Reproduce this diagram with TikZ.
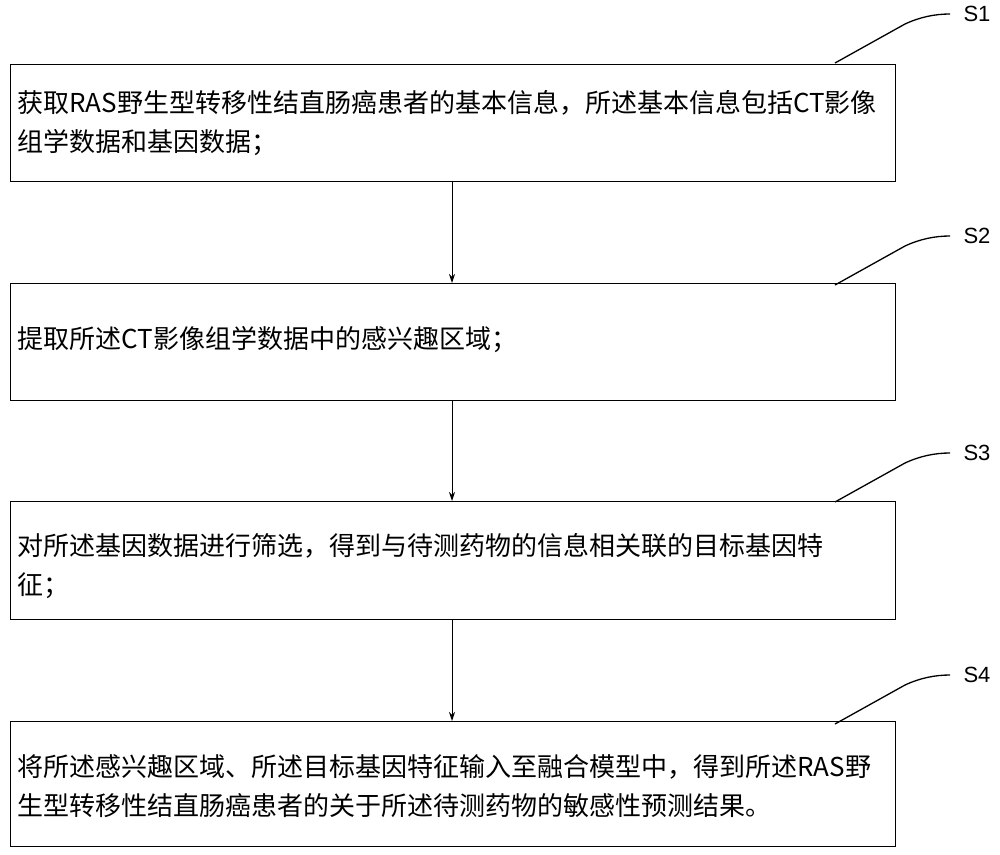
\documentclass[tikz,border=0pt]{standalone}
\usetikzlibrary{arrows.meta}
\usepackage{fontspec}
\setmainfont{Noto Sans CJK SC}
\newfontfamily\lat{Liberation Sans}
\begin{document}
\begin{tikzpicture}[x=1pt,y=-1pt,
  stepbox/.style={draw,line width=1.2pt,minimum width=885pt,anchor=north west,inner sep=0pt},
  txt/.style={anchor=west,align=left,font=\fontsize{26}{39}\selectfont},
  arr/.style={-{Stealth[length=9pt,width=6pt]},line width=1pt},
  lead/.style={line width=1.3pt},
  lab/.style={anchor=west,font=\lat\fontsize{22}{24}\selectfont}]
\useasboundingbox (0,0) rectangle (1000,854);
\node[stepbox,minimum height=117pt] (b1) at (10,64) {};
\node[stepbox,minimum height=117pt] (b2) at (10,283) {};
\node[stepbox,minimum height=118pt] (b3) at (10,501) {};
\node[stepbox,minimum height=125pt] (b4) at (10,721) {};
\node[txt] (t1) at (14,123) {获取RAS野生型转移性结直肠癌患者的基本信息，所述基本信息包括CT影像\\组学数据和基因数据；};
\node[txt] (t2) at (14,340) {提取所述CT影像组学数据中的感兴趣区域；};
\node[txt] (t3) at (14,566) {对所述基因数据进行筛选，得到与待测药物的信息相关联的目标基因特\\征；};
\node[txt] (t4) at (14,786) {将所述感兴趣区域、所述目标基因特征输入至融合模型中，得到所述RAS野\\生型转移性结直肠癌患者的关于所述待测药物的敏感性预测结果。};
\draw[arr] (b1.south -| 452,0) -- (b2.north -| 452,0);
\draw[arr] (b2.south -| 452,0) -- (b3.north -| 452,0);
\draw[arr] (b3.south -| 452,0) -- (b4.north -| 452,0);
\foreach \n/\y in {1/14,2/236,3/453,4/675}{
  \coordinate (s\n) at (835,\y+49);
  \coordinate (e\n) at (950,\y);
  \draw[lead] (s\n) -- (905,\y+10) .. controls (920,\y+3) and (935,\y) .. (e\n);
  \node[lab] (l\n) at (960,\y) {S\n};
}
\end{tikzpicture}
\end{document}
